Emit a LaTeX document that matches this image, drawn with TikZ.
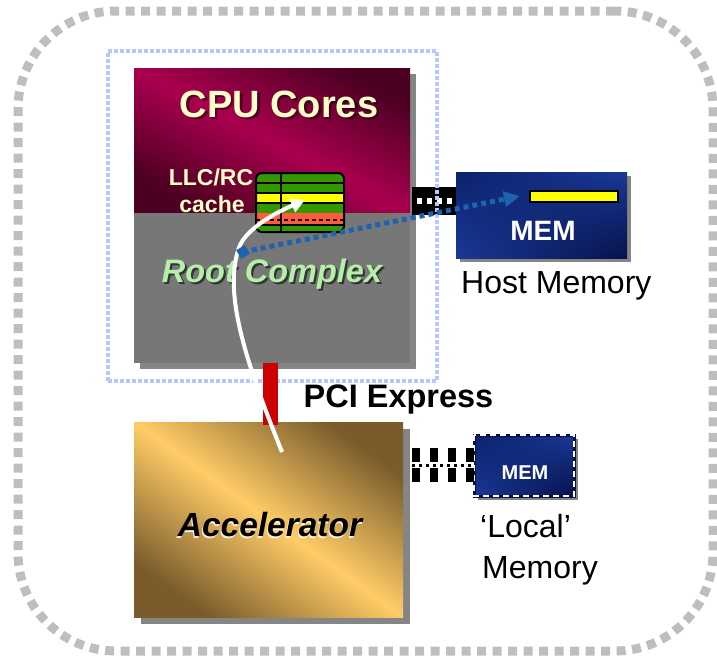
\documentclass[tikz,border=0pt]{standalone}
\usepackage{fontspec}
\setmainfont{Liberation Sans}
\usetikzlibrary{arrows.meta,shadings}
\definecolor{framegray}{HTML}{BEBEBE}
\definecolor{dotblue}{HTML}{BCC6FA}
\definecolor{crimL}{HTML}{AA004E}
\definecolor{crimD}{HTML}{4C0022}
\definecolor{rcgray}{HTML}{777777}
\definecolor{shgray}{HTML}{858585}
\definecolor{cream}{HTML}{FFFFC8}
\definecolor{rcgreen}{HTML}{B4F0A8}
\definecolor{goldL}{HTML}{FFCC66}
\definecolor{goldD}{HTML}{7A5C2C}
\definecolor{navyD}{HTML}{06124A}
\definecolor{navyM}{HTML}{0C226C}
\definecolor{navyL}{HTML}{1A3896}
\definecolor{arrowblue}{HTML}{1E62B0}
\definecolor{pcired}{HTML}{CC0000}
\definecolor{cgreen}{HTML}{339900}
\definecolor{cyellow}{HTML}{FFFF00}
\definecolor{csalmon}{HTML}{FF5A3C}
\begin{document}
\begin{tikzpicture}[x=1pt,y=-1pt,
  box/.style={rectangle, inner sep=0pt, outer sep=0pt, anchor=north west},
  lbl/.style={inner sep=0pt, anchor=base},
  lblw/.style={inner sep=0pt, anchor=base west},
  shadowfill/.style={fill=shgray},
  navyshade/.style={upper left=navyM, upper right=navyL, lower left=navyL, lower right=navyD},
  cachelines/.style={line width=1.6pt},
]
\useasboundingbox (0,0) rectangle (717,659);
% outer frame
\node[box, draw=framegray, line width=9pt, dash pattern=on 9pt off 6.5pt,
  rounded corners=98pt, minimum width=695pt, minimum height=640pt] (frame) at (18,11) {};

% CPU box
\fill[shadowfill] (140,74) rectangle (416,369);
\node[box, minimum width=276pt, minimum height=145pt,
  top color=crimD, bottom color=crimD, middle color=crimL, shading angle=-28] (cores) at (134,68) {};
\node[box, fill=rcgray, minimum width=276pt, minimum height=150pt] (rc) at (134,213) {};

% cache block
\begin{scope}
  \clip[rounded corners=6pt] (256,173) rectangle (344,232);
  \fill[cgreen] (256,173) rectangle (344,232);
  \fill[cyellow] (256,193) rectangle (344,203);
  \fill[csalmon] (256,213) rectangle (344,225);
  \draw[cachelines] (256,183) -- (344,183) (256,193) -- (344,193) (256,203) -- (344,203)
     (256,225) -- (344,225) (281,173) -- (281,232);
  \draw[cachelines, dash pattern=on 4pt off 3pt] (256,220) -- (344,220);
\end{scope}
\node[box, draw, line width=2pt, rounded corners=6pt, minimum width=88pt, minimum height=59pt] (cache) at (256,173) {};

% CPU texts
\node[lbl, text=black, opacity=0.45, font=\bfseries\fontsize{38}{38}\selectfont] (cpuS) at (281.5,119.5) {CPU Cores};
\node[lbl, text=cream, font=\bfseries\fontsize{38}{38}\selectfont] (cpuT) at (279,117) {CPU Cores};
\node[lbl, text=cream, font=\bfseries\fontsize{23}{23}\selectfont] (llcT) at (211,185) {LLC/RC};
\node[lbl, text=cream, font=\bfseries\fontsize{23}{23}\selectfont] (cacheT) at (212,212) {cache};
\node[lbl, text=black!80, font=\bfseries\itshape\fontsize{32.5}{32.5}\selectfont] (rcS) at (274,284) {Root Complex};
\node[lbl, text=rcgreen, font=\bfseries\itshape\fontsize{32.5}{32.5}\selectfont] (rcT) at (272,282) {Root Complex};

% host memory
\fill[shadowfill] (460,176) rectangle (631,262);
\node[box, navyshade, minimum width=171pt, minimum height=86pt] (hmem) at (456,172) {};
\node[box, draw, line width=1.5pt, fill=cyellow, minimum width=88pt, minimum height=11pt] (hbar) at (530,191) {};
\node[lbl, text=white, font=\bfseries\fontsize{28}{28}\selectfont] (hmemT) at (543,240) {MEM};

% host link
\coordinate (hlA) at (412,201);
\draw[line width=28pt] (hlA) -- (hlA -| hmem.west);
\draw[white, line width=6pt, dash pattern=on 5pt off 5pt] ([xshift=5pt]hlA) -- ([xshift=-3pt]hlA -| hmem.west);

% dotted root-complex boundary
\node[box, draw=dotblue, line width=3.5pt, dash pattern=on 4pt off 2pt,
  minimum width=329pt, minimum height=330pt] (rcbox) at (108,51) {};

% accelerator
\fill[shadowfill] (141,429) rectangle (410,624);
\node[box, minimum width=269pt, minimum height=195pt,
  top color=goldD, bottom color=goldD, middle color=goldL, shading angle=-36] (acc) at (134,422) {};
\node[lbl, text=white, opacity=0.8, font=\bfseries\itshape\fontsize{33.5}{33.5}\selectfont] (accS) at (269,538) {Accelerator};
\node[lbl, text=black, font=\bfseries\itshape\fontsize{33.5}{33.5}\selectfont] (accT) at (270,536) {Accelerator};

% local memory
\fill[shadowfill] (478,439) rectangle (578,500);
\node[box, navyshade, draw=navyD, line width=3pt, minimum width=100pt, minimum height=61pt] (lmem) at (474,435) {};
\draw[white, line width=1.5pt, dash pattern=on 6pt off 4pt] (lmem.north west) rectangle (lmem.south east);
\node[lbl, text=white, font=\bfseries\fontsize{20}{20}\selectfont] (lmemT) at (525,479) {MEM};

% local link
\coordinate (llA) at (412,465);
\draw[line width=34pt, dash pattern=on 8pt off 10pt] (llA) -- (llA -| lmem.west);
\draw[white, line width=6pt] (llA) -- (llA -| lmem.west);
\draw[line width=3pt, dash pattern=on 2.5pt off 4.5pt] (llA) -- (llA -| lmem.west);

% PCI Express link
\coordinate (pcx) at (270.5,0);
\draw[pcired, line width=15pt] (rc.south -| pcx) -- ([yshift=-3pt]acc.north -| pcx);

% white arrow
\coordinate (wa0) at (282,452);
\coordinate (wa1) at (305,200);
\draw[white, line width=4pt, -{Triangle[length=14pt,width=14pt]}]
  (wa0) .. controls (245,360) and (222,290) .. (240,245)
        .. controls (250,225) and (282,210) .. (wa1);

% blue dotted arrow
\node[fill=arrowblue, minimum size=10pt, inner sep=0pt, rotate=30] (bsq) at (243,252) {};
\coordinate (hmtip) at (520,196);
\draw[arrowblue, line width=5pt, dash pattern=on 5pt off 4pt, -{Triangle[length=16pt,width=15pt]}]
  (bsq.center) -- (hmtip);

% labels
\node[lbl, font=\bfseries\fontsize{32.5}{32.5}\selectfont] (pciT) at (398.5,407) {PCI Express};
\node[lblw, font=\fontsize{32}{32}\selectfont] (hmT) at (461,293) {Host Memory};
\node[lblw, font=\fontsize{32}{32}\selectfont] (lmT1) at (480,537) {‘Local’};
\node[lblw, font=\fontsize{32}{32}\selectfont] (lmT2) at (482,578) {Memory};
\end{tikzpicture}
\end{document}
